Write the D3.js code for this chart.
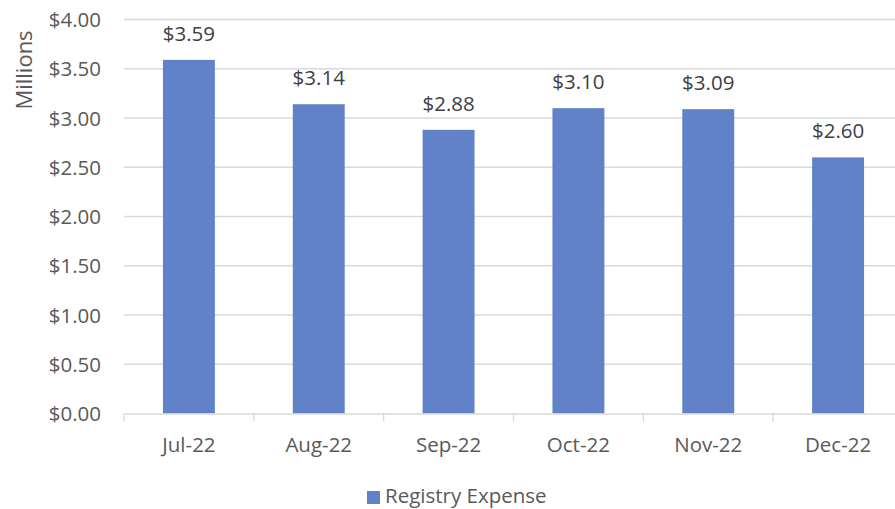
<!DOCTYPE html>
<html>
<head>
<meta charset="utf-8">
<script src="https://cdn.jsdelivr.net/npm/d3@7"></script>
<style>
  body { margin: 0; background: #fff; }
  text { font-family: "Open Sans", "Noto Sans", sans-serif; fill: #595959; }
</style>
</head>
<body>
<script>
const months = ["Jul-22", "Aug-22", "Sep-22", "Oct-22", "Nov-22", "Dec-22"];
const expense = [3.59, 3.14, 2.88, 3.10, 3.09, 2.60];
const yTicks = [0, 0.5, 1, 1.5, 2, 2.5, 3, 3.5, 4];
const seriesName = "Registry Expense";

const W = 895, H = 509;
const plotLeft = 124, plotRight = 903, plotTop = 19.5, plotBottom = 413.5;
const fs = "20.5px";

const svg = d3.select("body").append("svg")
  .attr("width", W)
  .attr("height", H);

const x = d3.scaleBand()
  .domain(months)
  .range([plotLeft, plotRight])
  .padding(0);

const y = d3.scaleLinear()
  .domain([0, 4])
  .range([plotBottom, plotTop]);

const fmt = d3.format("$.2f");

// gridlines
svg.append("g")
  .selectAll("line")
  .data(yTicks.filter(d => d > 0))
  .enter().append("line")
  .attr("x1", plotLeft).attr("x2", W)
  .attr("y1", d => y(d)).attr("y2", d => y(d))
  .attr("stroke", "#d9d9d9")
  .attr("stroke-width", 1.3);

// y labels
const yAxis = d3.axisLeft(y).tickValues(yTicks).tickFormat(fmt).tickSize(0).tickPadding(23);
const yg = svg.append("g").attr("transform", "translate(" + plotLeft + ",0)").call(yAxis);
yg.select(".domain").remove();
yg.selectAll("text").style("font-size", fs).attr("fill", "#595959").attr("dy", "0.35em");

// bars
const barW = x.bandwidth() * 0.4;
svg.selectAll("rect.bar")
  .data(expense)
  .enter().append("rect")
  .attr("class", "bar")
  .attr("x", (d, i) => x(months[i]) + (x.bandwidth() - barW) / 2)
  .attr("y", d => y(d))
  .attr("width", barW)
  .attr("height", d => plotBottom - y(d))
  .attr("fill", "#6182c8");

// value labels
svg.selectAll("text.val")
  .data(expense)
  .enter().append("text")
  .attr("class", "val")
  .attr("x", (d, i) => x(months[i]) + x.bandwidth() / 2)
  .attr("y", d => y(d) - 19)
  .attr("text-anchor", "middle")
  .style("font-size", fs)
  .style("fill", "#404040")
  .text(d => fmt(d));

// x axis
const xAxis = d3.axisBottom(x).tickSize(0).tickPadding(24);
const xg = svg.append("g").attr("transform", "translate(0," + plotBottom + ")").call(xAxis);
xg.select(".domain").attr("stroke", "#d9d9d9").attr("stroke-width", 1.3);
xg.selectAll("text").style("font-size", fs);
xg.selectAll(".sep")
  .data(months.concat(["end"]))
  .enter().append("line")
  .attr("x1", (d, i) => i < months.length ? x(d) : plotRight)
  .attr("x2", (d, i) => i < months.length ? x(d) : plotRight)
  .attr("y1", 0).attr("y2", 8)
  .attr("stroke", "#d9d9d9")
  .attr("stroke-width", 1.3);

// axis title
svg.append("text")
  .attr("transform", "translate(32,70) rotate(-90)")
  .attr("text-anchor", "middle")
  .style("font-size", "22px")
  .text("Millions");

// legend
svg.append("rect")
  .attr("x", 367).attr("y", 491)
  .attr("width", 13).attr("height", 13)
  .attr("fill", "#6182c8");
svg.append("text")
  .attr("x", 385).attr("y", 503)
  .style("font-size", fs)
  .text(seriesName);
</script>
</body>
</html>
